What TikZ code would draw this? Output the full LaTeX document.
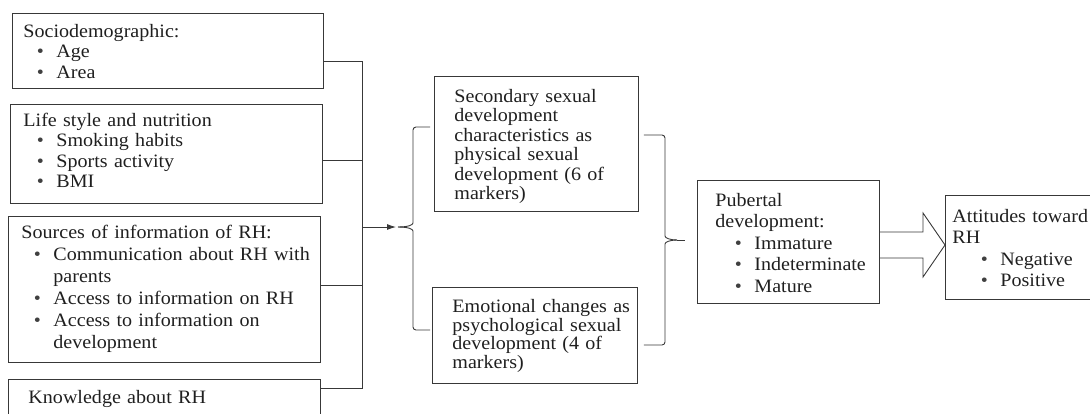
\documentclass[tikz,border=0pt]{standalone}
\usepackage{fontspec}
\setmainfont{Liberation Serif}[FakeStretch=1.06]
\usetikzlibrary{calc,arrows.meta}
\newcommand\bulsym{\textcolor{black!75}{\textbullet}}
\newcommand\itm[2]{\mbox{\hspace*{#1}\makebox[0pt]{\bulsym}\hspace*{16bp}#2}}
\newcommand\ml[1]{\mbox{#1}}
\begin{document}
\begin{tikzpicture}[x=1bp,y=-1bp,
  ln/.style={draw=black!78, line width=0.9bp},
  box/.style={ln, anchor=north west, inner ysep=0pt, align=left, text=black!88,
    font=\fontsize{19}{20.5}\selectfont},
]
\useasboundingbox (0,0) rectangle (1090,413);
% left column
\node[box, inner xsep=11bp, text width=289bp, text height=24bp, text depth=51bp] (b1) at (12,13)
  {\ml{Sociodemographic:}\\ \itm{17bp}{Age}\\ \itm{17bp}{Area}};
\node[box, inner xsep=13bp, text width=286bp, text height=22bp, text depth=77bp] (b2) at (10,104)
  {\ml{Life style and nutrition}\\ \itm{17bp}{Smoking habits}\\ \itm{17bp}{Sports activity}\\ \itm{17bp}{BMI}};
\node[box, inner xsep=13bp, text width=286bp, text height=22bp, text depth=124bp,
  font=\fontsize{19}{22}\selectfont] (b3) at (8,216)
  {\ml{Sources of information of RH:}\\ \itm{16bp}{Communication about RH with}\\ \ml{\hspace*{32bp}parents}\\
   \itm{16bp}{Access to information on RH}\\ \itm{16bp}{Access to information on}\\ \ml{\hspace*{32bp}development}};
\node[box, inner xsep=20bp, text width=272bp, text height=24bp, text depth=16bp] (b4) at (8,379)
  {\ml{Knowledge about RH}};
% middle column
\node[box, inner xsep=20bp, text width=164bp, text height=26bp, text depth=109bp,
  font=\fontsize{19}{19.5}\selectfont] (b5) at (434,76)
  {\ml{Secondary sexual}\\ \ml{development}\\ \ml{characteristics as}\\ \ml{physical sexual}\\ \ml{development (6 of}\\ \ml{markers)}};
\node[box, inner xsep=20bp, text width=165bp, text height=25bp, text depth=71bp,
  font=\fontsize{19}{18.8}\selectfont] (b6) at (432,287)
  {\ml{Emotional changes as}\\ \ml{psychological sexual}\\ \ml{development (4 of}\\ \ml{markers)}};
% right
\node[box, inner xsep=18bp, text width=146bp, text height=26bp, text depth=97bp,
  font=\fontsize{19}{21.5}\selectfont] (b7) at (697,180)
  {\ml{Pubertal}\\ \ml{development:}\\ \itm{23bp}{Immature}\\ \itm{23bp}{Indeterminate}\\ \itm{23bp}{Mature}};
\node[box, inner xsep=7bp, text width=136bp, text height=27bp, text depth=77bp,
  font=\fontsize{19}{21.5}\selectfont] (b8) at (945,195)
  {\ml{Attitudes toward}\\ \ml{RH}\\ \itm{32bp}{Negative}\\ \itm{32bp}{Positive}};
% bus from left boxes
\coordinate (p1) at ($(b1.north east)+(0,48)$);
\coordinate (p2) at ($(b2.north east)+(0,56)$);
\coordinate (p3) at ($(b3.north east)+(0,69)$);
\coordinate (p4) at ($(b4.north east)+(0,9)$);
\coordinate (bus) at (362,0);
\coordinate (bm) at (362,227);
\coordinate (lt) at (398,227);
\draw[ln] (p1) -- (p1 -| bus) -- (p4 -| bus) -- (p4);
\draw[ln] (p2) -- (p2 -| bus);
\draw[ln] (p3) -- (p3 -| bus);
\draw[ln, -{Latex[length=9bp,width=6bp]}, shorten >=2bp] (bm) -- (lt);
% left brace
\draw[ln, rounded corners=3bp] ($(b5.west |- 0,127)+(-4,0)$) -- (413,127) -- (413,220)
  .. controls (413,225) and (408,227) .. (lt);
\draw[ln, rounded corners=3bp] ($(b6.west |- 0,330)+(-2,0)$) -- (413,330) -- (413,234)
  .. controls (413,229) and (408,227) .. (lt);
% right brace
\coordinate (rt) at (677,240);
\draw[ln, rounded corners=3bp] ($(b5.east |- 0,135)+(5,0)$) -- (665,135) -- (665,233)
  .. controls (665,238) and (670,240) .. (rt);
\draw[ln, rounded corners=3bp] ($(b6.east |- 0,345)+(6,0)$) -- (665,345) -- (665,247)
  .. controls (665,242) and (670,240) .. (rt);
\draw[ln] (rt) -- ($(b7.west |- rt)+(-12,0)$);
% block arrow
\draw[ln, line join=miter] (b7.east |- 0,232) -- (923,232) -- (923,213) -- (b8.west |- 0,245)
  -- (923,277) -- (923,258) -- (b7.east |- 0,258);
\end{tikzpicture}
\end{document}
